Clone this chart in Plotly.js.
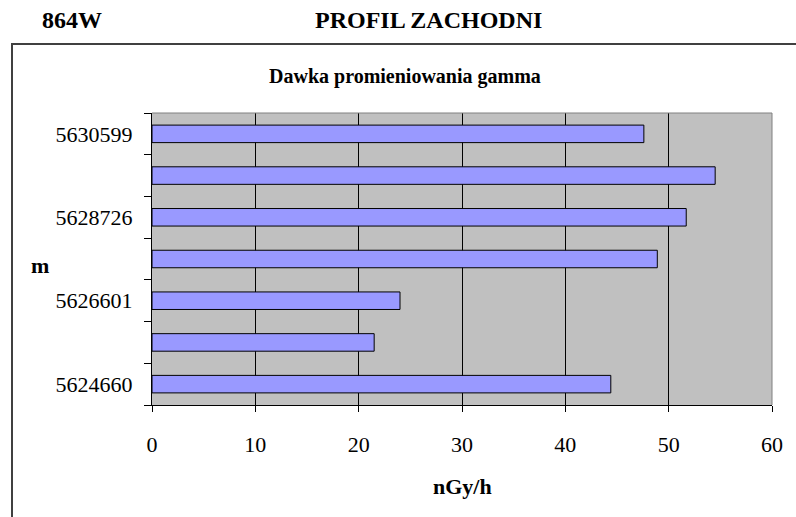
<!DOCTYPE html>
<html>
<head>
<meta charset="utf-8">
<script src="https://cdn.plot.ly/plotly-3.0.1.min.js"></script>
<style>html,body{margin:0;padding:0;background:#fff;}#chart{width:796px;height:517px;}</style>
</head>
<body>
<div id="chart"></div>
<script>
// Data (bottom to top)
const rowLabels = ["5624660", "", "5626601", "", "5628726", "", "5630599"];
const doseValues = [44.4, 21.5, 24.0, 48.9, 51.7, 54.5, 47.6];
const xTicks = [0, 10, 20, 30, 40, 50, 60];

const W = 796, H = 517;
const L = 152, R = 772, T = 113, B = 405;
const px = x => (x - L) / (R - L);
const py = y => (B - y) / (B - T);

const rowPos = rowLabels.map((_, i) => i);
const boundaries = rowLabels.map((_, i) => i - 0.5).concat([rowLabels.length - 0.5]);

const serif = "Liberation Serif";

const trace = {
  type: "bar",
  orientation: "h",
  x: doseValues,
  y: rowPos,
  width: 0.42,
  marker: {color: "#9999FF", line: {color: "#000", width: 1}},
  hoverinfo: "x"
};

function label(text, x, y, size) {
  return {text: text, xref: "paper", yref: "paper", x: px(x), y: py(y), showarrow: false,
          xanchor: "center", yanchor: "middle",
          font: {family: serif, size: size, color: "#000", weight: 700}};
}

const layout = {
  width: W, height: H,
  margin: {l: L, r: W - R, t: T, b: H - B, pad: 0},
  paper_bgcolor: "#fff",
  plot_bgcolor: "#C0C0C0",
  showlegend: false,
  bargap: 0,
  xaxis: {
    range: [0, 60], tickvals: xTicks, ticktext: xTicks.map(String),
    showgrid: true, gridcolor: "#000", gridwidth: 1,
    zeroline: false, showline: true, linecolor: "#000", linewidth: 1,
    ticks: "outside", ticklen: 6, tickcolor: "#000",
    ticklabelstandoff: 14,
    tickfont: {family: serif, size: 22, color: "#000"}, fixedrange: true
  },
  yaxis: {
    range: [-0.5, rowLabels.length - 0.5],
    tickvals: rowPos, ticktext: rowLabels,
    ticks: "", showgrid: false, zeroline: false,
    showline: true, linecolor: "#000", linewidth: 1,
    ticklabelstandoff: 14,
    tickfont: {family: serif, size: 22, color: "#000"},
    minor: {tickvals: boundaries, ticks: "outside", ticklen: 7, tickcolor: "#000", showgrid: false},
    fixedrange: true
  },
  shapes: [
    {type: "line", xref: "paper", yref: "paper", x0: 0, x1: 1, y0: 1, y1: 1, line: {color: "#808080", width: 1}, layer: "above"},
    {type: "line", xref: "paper", yref: "paper", x0: 1, x1: 1, y0: 0, y1: 1, line: {color: "#808080", width: 1}, layer: "above"},
    {type: "path", xref: "paper", yref: "paper",
     path: `M ${px(12)} ${py(520)} L ${px(12)} ${py(44)} L ${px(800)} ${py(44)}`,
     line: {color: "#404040", width: 2}}
  ],
  annotations: [
    label("864W", 72, 20, 24),
    label("PROFIL ZACHODNI", 428, 20, 24),
    label("Dawka promieniowania gamma", 405, 77, 20),
    label("m", 40, 265, 22),
    label("nGy/h", 462, 486, 22)
  ]
};

Plotly.newPlot("chart", [trace], layout, {displayModeBar: false, staticPlot: true});
</script>
</body>
</html>
